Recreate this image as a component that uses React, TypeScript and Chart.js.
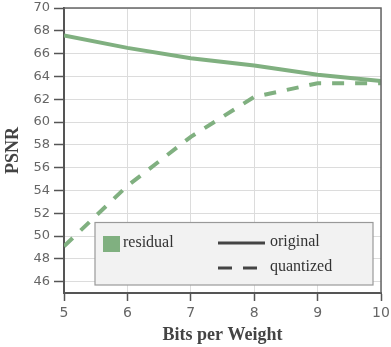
import React, { useEffect, useRef } from "react";
import { Chart, registerables } from "chart.js";

Chart.register(...registerables);

const bits = [5, 6, 7, 8, 9, 10];
const original = [67.6, 66.5, 65.6, 64.95, 64.15, 63.6];
const quantized = [49.1, 54.4, 58.7, 62.2, 63.4, 63.4];
const yTicks = [46, 48, 50, 52, 54, 56, 58, 60, 62, 64, 66, 68, 70];
const xTicks = [5, 6, 7, 8, 9, 10];
const legendPatchLabel = "residual";

const GREEN = "rgb(128,176,128)";
const AXIS = "#555";
const TICKFONT = "'DejaVu Sans', sans-serif";

const frameAndLegend = {
  id: "frameAndLegend",
  afterDraw(chart: any) {
    const { ctx, chartArea } = chart;
    const { left, top, right, bottom } = chartArea;
    ctx.save();
    // frame top & right
    ctx.strokeStyle = "#666";
    ctx.lineWidth = 1.5;
    ctx.beginPath();
    ctx.moveTo(left, top);
    ctx.lineTo(right, top);
    ctx.lineTo(right, bottom);
    ctx.stroke();

    // legend box
    const bx = 95;
    const by = 222.5;
    const bw = 278;
    const bh = 62.5;
    ctx.fillStyle = "#f2f2f2";
    ctx.fillRect(bx, by, bw, bh);
    ctx.strokeStyle = "#999";
    ctx.lineWidth = 1.2;
    ctx.strokeRect(bx, by, bw, bh);

    // residual patch
    ctx.fillStyle = GREEN;
    ctx.fillRect(bx + 8, by + 13.5, 17, 16);
    ctx.fillStyle = "#333";
    ctx.font = "16px 'Liberation Serif', serif";
    ctx.textBaseline = "middle";
    ctx.textAlign = "left";
    ctx.fillText(legendPatchLabel, bx + 28, by + 20);

    // original line
    ctx.strokeStyle = "#444";
    ctx.lineWidth = 3;
    ctx.beginPath();
    ctx.moveTo(bx + 123, by + 20.5);
    ctx.lineTo(bx + 170, by + 20.5);
    ctx.stroke();
    ctx.fillText(chart.data.datasets[0].label, bx + 175, by + 19);

    // quantized line
    ctx.setLineDash([14, 11]);
    ctx.beginPath();
    ctx.moveTo(bx + 123, by + 45.5);
    ctx.lineTo(bx + 163, by + 45.5);
    ctx.stroke();
    ctx.setLineDash([]);
    ctx.fillText(chart.data.datasets[1].label, bx + 175, by + 44);
    ctx.restore();
  },
};

export default function App() {
  const ref = useRef<HTMLCanvasElement>(null);

  useEffect(() => {
    document.body.style.margin = "0";
    const canvas = ref.current!;
    const chart = new Chart(canvas, {
      type: "line",
      data: {
        datasets: [
          {
            label: "original",
            data: bits.map((b, i) => ({ x: b, y: original[i] })),
            borderColor: GREEN,
            borderWidth: 4,
            pointRadius: 0,
            tension: 0,
            fill: false,
          },
          {
            label: "quantized",
            data: bits.map((b, i) => ({ x: b, y: quantized[i] })),
            borderColor: GREEN,
            borderWidth: 4,
            borderDash: [12, 11],
            pointRadius: 0,
            tension: 0,
            fill: false,
          },
        ],
      },
      options: {
        responsive: false,
        animation: false,
        layout: { padding: { top: 8, right: 10, left: 0, bottom: 0 } },
        plugins: {
          legend: { display: false },
          tooltip: { enabled: false },
        },
        scales: {
          x: {
            type: "linear",
            min: 5,
            max: 10,
            afterBuildTicks: (axis: any) => {
              axis.ticks = xTicks.map((v) => ({ value: v }));
            },
            afterFit: (axis: any) => {
              axis.height = 54;
              axis.paddingLeft = 0;
              axis.paddingRight = 0;
            },
            grid: {
              color: "#dcdcdc",
              lineWidth: 1,
              tickColor: AXIS,
              tickLength: 8,
              tickWidth: 1.5,
            },
            border: { color: AXIS, width: 2 },
            ticks: {
              color: "#666",
              font: { family: TICKFONT, size: 14 },
              padding: 4,
              maxRotation: 0,
            },
            title: {
              display: true,
              text: "Bits per Weight",
              color: "#444",
              font: { family: "'Liberation Serif', serif", size: 18, weight: "bold" },
              padding: { top: 0, bottom: 1 },
            },
          },
          y: {
            type: "linear",
            min: 45,
            max: 70,
            afterBuildTicks: (axis: any) => {
              axis.ticks = yTicks.map((v) => ({ value: v }));
            },
            afterFit: (axis: any) => {
              axis.width = 64;
              axis.paddingTop = 0;
              axis.paddingBottom = 0;
            },
            grid: {
              color: "#dcdcdc",
              lineWidth: 1,
              tickColor: AXIS,
              tickLength: 10,
              tickWidth: 1.5,
            },
            border: { color: AXIS, width: 2 },
            ticks: {
              color: "#666",
              font: { family: TICKFONT, size: 13 },
              padding: 4,
            },
            title: {
              display: true,
              text: "PSNR",
              color: "#444",
              font: { family: "'Liberation Serif', serif", size: 18, weight: "bold" },
              padding: { top: 3, bottom: 0 },
            },
          },
        },
      },
      plugins: [frameAndLegend],
    });
    return () => chart.destroy();
  }, []);

  return (
    <div style={{ width: 391, height: 347 }}>
      <canvas ref={ref} width={391} height={347} />
    </div>
  );
}
